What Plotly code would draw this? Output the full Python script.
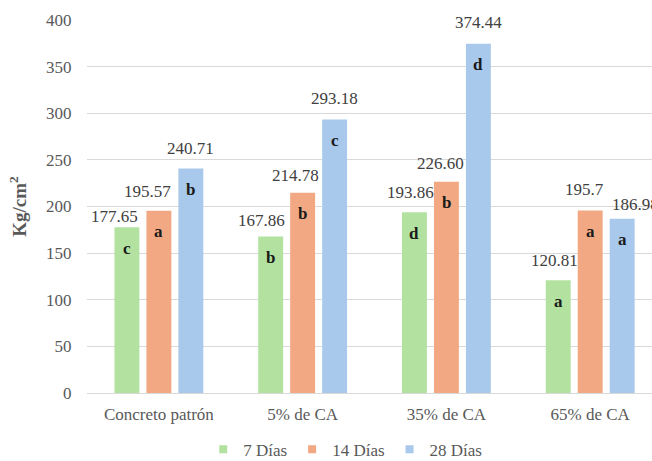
import plotly.graph_objects as go

categories = ["Concreto patrón", "5% de CA", "35% de CA", "65% de CA"]
series_names = ["7 Días", "14 Días", "28 Días"]
v7 = [177.65, 167.86, 193.86, 120.81]
v14 = [195.57, 214.78, 226.60, 195.7]
v28 = [240.71, 293.18, 374.44, 186.98]
labels7 = ["177.65", "167.86", "193.86", "120.81"]
labels14 = ["195.57", "214.78", "226.60", "195.7"]
labels28 = ["240.71", "293.18", "374.44", "186.98"]
letters7 = ["c", "b", "d", "a"]
letters14 = ["a", "b", "b", "a"]
letters28 = ["b", "c", "d", "a"]
y_ticks = [0, 50, 100, 150, 200, 250, 300, 350, 400]

colors = ["#B3E2A0", "#F2A983", "#A8C9EC"]
FONT = "'Liberation Serif', 'Times New Roman', Times, serif"

values = [v7, v14, v28]
labels = [labels7, labels14, labels28]
letters = [letters7, letters14, letters28]

# manual label nudges (pixels) mimicking the original placement
label_dx = [[-12, -9, -4, -4], [-11, -7, -6, -6], [0, 0, 0, 13]]
label_gap = [[3, 8, 12, 12], [12, 10, 11, 14], [13, 14, 14, 7]]

fig = go.Figure()
for i in range(3):
    fig.add_trace(go.Bar(x=categories, y=values[i], name=series_names[i],
                         marker=dict(color=colors[i], line=dict(width=0)),
                         showlegend=False))
    fig.add_trace(go.Scatter(x=[None], y=[None], mode="markers", name=series_names[i],
                             marker=dict(symbol="square", size=8, color=colors[i])))

slot = 32  # px distance between bar centres within a group
annotations = []
for i in range(3):
    for j, c in enumerate(categories):
        off = (i - 1) * slot
        annotations.append(dict(x=c, y=values[i][j], xref="x", yref="y",
                                text=labels[i][j], showarrow=False,
                                xanchor="center", yanchor="bottom",
                                xshift=off + label_dx[i][j], yshift=label_gap[i][j] - 4,
                                font=dict(family=FONT, size=17, color="#404040")))
        annotations.append(dict(x=c, y=values[i][j], xref="x", yref="y",
                                text="<b>" + letters[i][j] + "</b>", showarrow=False,
                                xanchor="center", yanchor="middle",
                                xshift=off, yshift=-21,
                                font=dict(family=FONT, size=17, color="#1a1a1a")))

fig.update_layout(
    width=652, height=461,
    margin=dict(l=87, r=0, t=20, b=68, autoexpand=False),
    paper_bgcolor="white", plot_bgcolor="white",
    barmode="group", bargap=0.333, bargroupgap=0.22,
    font=dict(family=FONT, size=17, color="#595959"),
    annotations=annotations,
    legend=dict(orientation="h", x=0.457, xanchor="center", y=-0.2, yanchor="bottom",
                font=dict(family=FONT, size=17, color="#595959"),
                itemwidth=30, tracegroupgap=0),
    xaxis=dict(range=[-0.5, 3.43], showgrid=False, showline=False,
               ticks="outside", ticklen=6, tickcolor="rgba(0,0,0,0)",
               tickfont=dict(family=FONT, size=17, color="#595959")),
    yaxis=dict(range=[0, 400], tickvals=y_ticks, showgrid=True, gridcolor="#D9D9D9",
               gridwidth=1, zeroline=True, zerolinecolor="#D9D9D9", zerolinewidth=1,
               showline=False, ticks="outside", ticklen=11, tickcolor="rgba(0,0,0,0)",
               tickfont=dict(family=FONT, size=17, color="#595959"),
               title=dict(text="<b>Kg/cm<sup>2</sup></b>", standoff=14,
                          font=dict(family=FONT, size=19, color="#595959"))),
)

fig.write_html("out.html")
